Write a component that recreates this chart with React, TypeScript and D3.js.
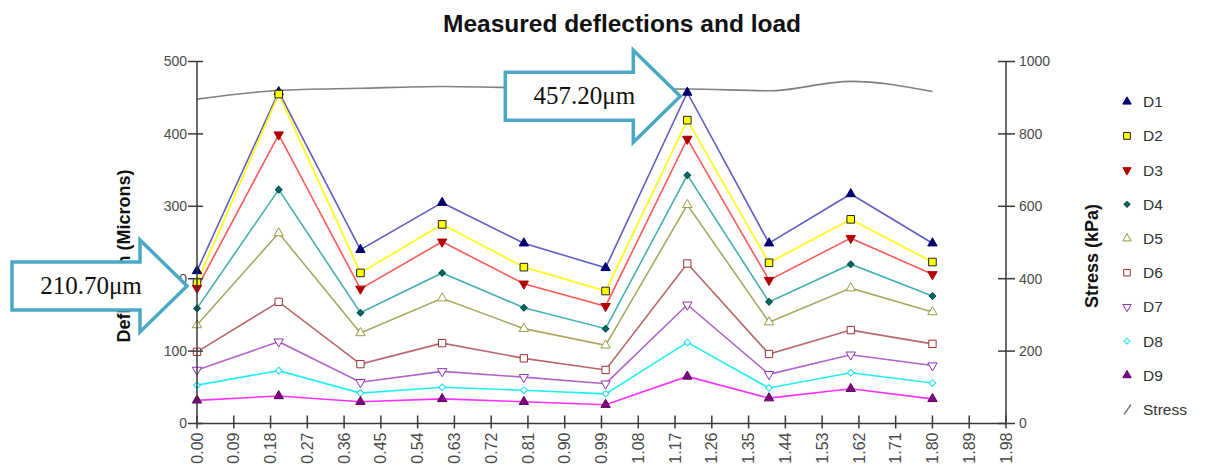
import React from "react";
import * as d3 from "d3";

// positions along the test line (same x for every series)
const xs = [0, 0.2, 0.4, 0.6, 0.8, 1.0, 1.2, 1.4, 1.6, 1.8];

// deflections in microns
const d1 = [210.7, 458, 240, 305, 249, 215, 457.2, 249, 317, 249];
const d2 = [195, 455, 208, 275, 216, 183, 419, 222, 282, 223];
const d3v = [187, 399, 186, 251, 193, 162, 393, 198, 256, 206];
const d4 = [159, 323, 153, 208, 160, 131, 343, 168, 220, 176];
const d5 = [136, 263, 125, 173, 131, 108, 302, 140, 187, 154];
const d6 = [99, 168, 82, 111, 90, 74, 221, 96, 129, 110];
const d7 = [74, 113, 57, 72, 64, 55, 164, 68, 95, 80];
const d8 = [53, 73, 42, 50, 46, 41, 112, 49, 70, 56];
const d9 = [32, 38, 30, 34, 30, 26, 65, 35, 48, 34];

// stress (kPa), right axis
const stress = [896, 920, 926, 931, 927, 922, 924, 919, 945, 917];

const xTicks = d3.range(0, 23).map((i) => +(i * 0.09).toFixed(2));
const leftTicks = [0, 100, 200, 300, 400, 500];
const rightTicks = [0, 200, 400, 600, 800, 1000];

// callouts
const callouts = [
  { label: "210.70μm", x: 0, v: 190 },
  { label: "457.20μm", x: 1.2, v: 452 },
];

type Series = {
  name: string;
  values: number[];
  line: string;
  sym: d3.SymbolType;
  rot: number;
  fill: string;
  stroke: string;
  size: number;
};

const series: Series[] = [
  { name: "D1", values: d1, line: "#5f5fc0", sym: d3.symbolTriangle, rot: 0, fill: "#000070", stroke: "#000070", size: 38 },
  { name: "D2", values: d2, line: "#ffff00", sym: d3.symbolSquare, rot: 0, fill: "#ffff00", stroke: "#222", size: 58 },
  { name: "D3", values: d3v, line: "#ff5a5a", sym: d3.symbolTriangle, rot: 180, fill: "#b00000", stroke: "#b00000", size: 38 },
  { name: "D4", values: d4, line: "#45b0b0", sym: d3.symbolSquare, rot: 45, fill: "#006a6a", stroke: "#004848", size: 22 },
  { name: "D5", values: d5, line: "#a9a862", sym: d3.symbolTriangle, rot: 0, fill: "#fff", stroke: "#9a9a40", size: 38 },
  { name: "D6", values: d6, line: "#b86868", sym: d3.symbolSquare, rot: 0, fill: "#fff", stroke: "#a03030", size: 54 },
  { name: "D7", values: d7, line: "#b064c8", sym: d3.symbolTriangle, rot: 180, fill: "#fff", stroke: "#9030b0", size: 38 },
  { name: "D8", values: d8, line: "#20f0f0", sym: d3.symbolSquare, rot: 45, fill: "#fff", stroke: "#10e0f0", size: 22 },
  { name: "D9", values: d9, line: "#ff30ff", sym: d3.symbolTriangle, rot: 0, fill: "#800080", stroke: "#600060", size: 38 },
];

const W = 1205;
const H = 465;
const font = "Arial, 'Liberation Sans', sans-serif";

export default function App() {
  const x = d3.scaleLinear().domain([0, 1.98]).range([197, 1006]);
  const yL = d3.scaleLinear().domain([0, 500]).range([423.5, 61.5]);
  const yR = d3.scaleLinear().domain([0, 1000]).range([423.5, 61.5]);

  const line = d3
    .line<number>()
    .x((_, i) => x(xs[i]))
    .y((v) => yL(v));

  const stressLine = d3
    .line<number>()
    .x((_, i) => x(xs[i]))
    .y((v) => yR(v))
    .curve(d3.curveMonotoneX);

  const axisColor = "#3a3a3a";
  const tickColor = "#4a4a4a";

  // arrow outline relative to its tip
  const arrowPath = (tx: number, ty: number) => {
    const len = 175,
      headLen = 47,
      headHalf = 46,
      bodyHalf = 24;
    return (
      `M${tx},${ty} L${tx - headLen},${ty - headHalf} L${tx - headLen},${ty - bodyHalf} ` +
      `L${tx - len},${ty - bodyHalf} L${tx - len},${ty + bodyHalf} L${tx - headLen},${ty + bodyHalf} ` +
      `L${tx - headLen},${ty + headHalf} Z`
    );
  };

  const legendY = (i: number) => 101.7 + i * 34.2;

  return (
    <div style={{ position: "absolute", left: 0, top: 0 }}>
      <svg width={W} height={H} style={{ display: "block", background: "#fff" }}>
        {/* title */}
        <text
          x={622}
          y={32}
          textAnchor="middle"
          fontFamily={font}
          fontWeight="bold"
          fontSize={24.5}
          fill="#111"
        >
          Measured deflections and load
        </text>

        {/* series lines */}
        {series.map((s) => (
          <path key={s.name + "l"} d={line(s.values) || ""} fill="none" stroke={s.line} strokeWidth={1.6} />
        ))}
        <path d={stressLine(stress) || ""} fill="none" stroke="#808080" strokeWidth={1.6} />

        {/* markers */}
        {series.map((s) =>
          s.values.map((v, i) => (
            <path
              key={s.name + i}
              d={d3.symbol(s.sym, s.size)() || ""}
              transform={`translate(${x(xs[i])},${yL(v)}) rotate(${s.rot})`}
              fill={s.fill}
              stroke={s.stroke}
              strokeWidth={1}
            />
          ))
        )}

        {/* axes */}
        <g stroke={axisColor} strokeWidth={1.5}>
          <line x1={x(0)} x2={x(0)} y1={yL(500)} y2={yL(0)} />
          <line x1={x(1.98)} x2={x(1.98)} y1={yR(1000)} y2={yR(0)} />
          <line x1={x(0)} x2={x(1.98)} y1={yL(0)} y2={yL(0)} />
          {leftTicks.map((t) => (
            <line key={"lt" + t} x1={x(0) - 9} x2={x(0) + 6} y1={yL(t)} y2={yL(t)} />
          ))}
          {rightTicks.map((t) => (
            <line key={"rt" + t} x1={x(1.98) - 8} x2={x(1.98) + 9} y1={yR(t)} y2={yR(t)} />
          ))}
          {xTicks.map((t) => (
            <line key={"xt" + t} x1={x(t)} x2={x(t)} y1={yL(0) - 8} y2={yL(0) + 5} />
          ))}
        </g>

        {/* tick labels */}
        <g fontFamily={font} fontSize={14} fill={tickColor}>
          {leftTicks.map((t) => (
            <text key={"ll" + t} x={x(0) - 10} y={yL(t)} dy="0.35em" textAnchor="end">
              {t}
            </text>
          ))}
          {rightTicks.map((t) => (
            <text key={"rl" + t} x={x(1.98) + 13} y={yR(t)} dy="0.35em" textAnchor="start">
              {t}
            </text>
          ))}
        </g>
        <g fontFamily={font} fontSize={16} fill={tickColor}>
          {xTicks.map((t) => (
            <text
              key={"xl" + t}
              transform={`translate(${x(t)},${yL(0) + 9}) rotate(-90)`}
              dy="0.35em"
              textAnchor="end"
            >
              {t.toFixed(2)}
            </text>
          ))}
        </g>

        {/* axis titles */}
        <text
          transform={`translate(124,256) rotate(-90)`}
          dy="0.35em"
          textAnchor="middle"
          fontFamily={font}
          fontWeight="bold"
          fontSize={18}
          fill="#111"
        >
          Deflection (Microns)
        </text>
        <text
          transform={`translate(1092,256) rotate(-90)`}
          dy="0.35em"
          textAnchor="middle"
          fontFamily={font}
          fontWeight="bold"
          fontSize={18}
          fill="#111"
        >
          Stress (kPa)
        </text>

        {/* legend */}
        {series.map((s, i) => (
          <g key={s.name + "lg"}>
            <path
              d={d3.symbol(s.sym, s.size * 0.8)() || ""}
              transform={`translate(1127,${legendY(i)}) rotate(${s.rot})`}
              fill={s.fill}
              stroke={s.stroke}
              strokeWidth={1}
            />
            <text x={1143} y={legendY(i)} dy="0.36em" fontFamily={font} fontSize={15.5} fill="#333">
              {s.name}
            </text>
          </g>
        ))}
        <line
          x1={1124}
          x2={1131}
          y1={legendY(9) + 5}
          y2={legendY(9) - 5}
          stroke="#777"
          strokeWidth={1.4}
        />
        <text x={1143} y={legendY(9)} dy="0.36em" fontFamily={font} fontSize={15.5} fill="#333">
          Stress
        </text>

        {/* callout arrows */}
        {callouts.map((c, i) => {
          const tx = x(c.x) - (i === 0 ? 10 : 7);
          const ty = yL(c.v);
          return (
            <g key={c.label}>
              <path d={arrowPath(tx, ty)} fill="#fff" stroke="#4aaac6" strokeWidth={3.5} strokeLinejoin="miter" />
              <text
                x={tx - 96}
                y={ty + 8}
                textAnchor="middle"
                fontFamily="'Liberation Serif', 'Times New Roman', serif"
                fontSize={25}
                fill="#111"
              >
                {c.label}
              </text>
            </g>
          );
        })}
      </svg>
    </div>
  );
}
